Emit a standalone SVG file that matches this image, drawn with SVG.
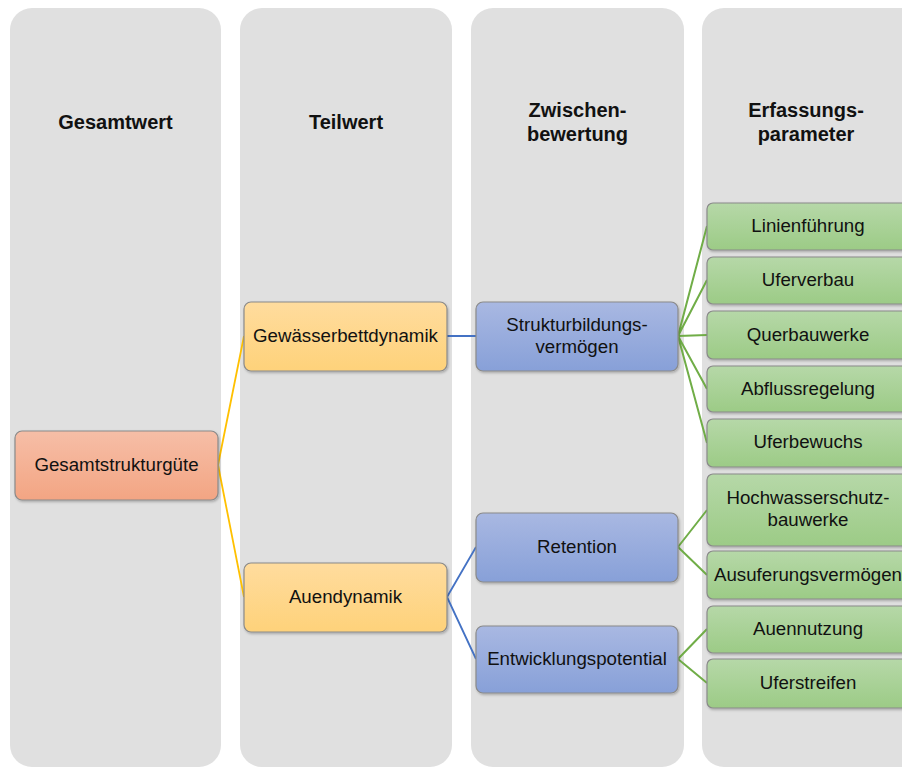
<svg xmlns="http://www.w3.org/2000/svg" width="902" height="767" viewBox="0 0 902 767">
<style>
.col{fill:#e0e0e0}
.hd{font-family:"Liberation Sans",Arial,sans-serif;font-weight:bold;font-size:20px;fill:#111;text-anchor:middle}
.tx{font-family:"Liberation Sans",Arial,sans-serif;font-size:18.7px;fill:#111;text-anchor:middle}
.box{stroke:#8a8a8a;stroke-width:1.2;filter:url(#sh)}
.red{fill:url(#gR)}
.yel{fill:url(#gY)}
.blu{fill:url(#gB)}
.grn{fill:url(#gG)}
.cy{stroke:#ffc000;stroke-width:1.8;fill:none}
.cb{stroke:#4472c4;stroke-width:1.8;fill:none}
.cg{stroke:#70ad47;stroke-width:2;fill:none}
</style>
<defs>
<linearGradient id="gR" x1="0" y1="0" x2="0" y2="1"><stop offset="0" stop-color="#f6bea7"/><stop offset="1" stop-color="#f3a583"/></linearGradient>
<linearGradient id="gY" x1="0" y1="0" x2="0" y2="1"><stop offset="0" stop-color="#ffdc9e"/><stop offset="1" stop-color="#fed27a"/></linearGradient>
<linearGradient id="gB" x1="0" y1="0" x2="0" y2="1"><stop offset="0" stop-color="#a9b8e2"/><stop offset="1" stop-color="#87a0d8"/></linearGradient>
<linearGradient id="gG" x1="0" y1="0" x2="0" y2="1"><stop offset="0" stop-color="#b6d8a8"/><stop offset="1" stop-color="#9ccb86"/></linearGradient>
<filter id="sh" x="-10%" y="-10%" width="120%" height="130%"><feDropShadow dx="1" dy="1.5" stdDeviation="1" flood-color="#000" flood-opacity="0.25"/></filter>
</defs>
<g id="columns">
<rect class="col" x="10" y="8" width="211" height="759" rx="22"/>
<rect class="col" x="240" y="8" width="212" height="759" rx="22"/>
<rect class="col" x="471" y="8" width="213" height="759" rx="22"/>
<rect class="col" x="702" y="8" width="230" height="759" rx="22"/>
<text class="hd" x="115.5" y="129">Gesamtwert</text>
<text class="hd" x="346" y="129">Teilwert</text>
<text class="hd" x="577.5" y="117">Zwischen-</text>
<text class="hd" x="577.5" y="141">bewertung</text>
<text class="hd" x="806" y="117">Erfassungs-</text>
<text class="hd" x="806" y="141">parameter</text>
</g>
<g id="connectors">
<path class="cy" d="M218 465 L244 336 M218 465 L244 597"/>
<path class="cb" d="M447 336 L476 336 M447 597 L476 547 M447 597 L476 659"/>
<path class="cg" d="M678 336 L707 226 M678 336 L707 280 M678 336 L707 335 M678 336 L707 389 M678 336 L707 443"/>
<path class="cg" d="M678 547 L707 510 M678 547 L707 575 M678 659 L707 629 M678 659 L707 683"/>
</g>
<g id="n-gesamtstrukturguete"><rect class="box red" x="15" y="431" width="203" height="69" rx="7"/><text class="tx" x="116.5" y="471">Gesamtstrukturgüte</text></g>
<g id="n-gewaesserbettdynamik"><rect class="box yel" x="244" y="302" width="203" height="69" rx="7"/><text class="tx" x="345.5" y="342">Gewässerbettdynamik</text></g>
<g id="n-auendynamik"><rect class="box yel" x="244" y="563" width="203" height="69" rx="7"/><text class="tx" x="345.5" y="603">Auendynamik</text></g>
<g id="n-strukturbildung"><rect class="box blu" x="476" y="302" width="202" height="69" rx="7"/><text class="tx" x="577" y="331">Strukturbildungs-</text><text class="tx" x="577" y="353">vermögen</text></g>
<g id="n-retention"><rect class="box blu" x="476" y="513" width="202" height="69" rx="7"/><text class="tx" x="577" y="553">Retention</text></g>
<g id="n-entwicklungspotential"><rect class="box blu" x="476" y="626" width="202" height="67" rx="7"/><text class="tx" x="577" y="665">Entwicklungspotential</text></g>
<g id="n-linienfuehrung"><rect class="box grn" x="707" y="203" width="202" height="47" rx="6"/><text class="tx" x="808" y="232">Linienführung</text></g>
<g id="n-uferverbau"><rect class="box grn" x="707" y="257" width="202" height="47" rx="6"/><text class="tx" x="808" y="286">Uferverbau</text></g>
<g id="n-querbauwerke"><rect class="box grn" x="707" y="311" width="202" height="48" rx="6"/><text class="tx" x="808" y="341">Querbauwerke</text></g>
<g id="n-abflussregelung"><rect class="box grn" x="707" y="366" width="202" height="46" rx="6"/><text class="tx" x="808" y="395">Abflussregelung</text></g>
<g id="n-uferbewuchs"><rect class="box grn" x="707" y="419" width="202" height="48" rx="6"/><text class="tx" x="808" y="448">Uferbewuchs</text></g>
<g id="n-hochwasserschutz"><rect class="box grn" x="707" y="474" width="202" height="72" rx="6"/><text class="tx" x="808" y="504">Hochwasserschutz-</text><text class="tx" x="808" y="526">bauwerke</text></g>
<g id="n-ausuferungsvermoegen"><rect class="box grn" x="707" y="551" width="202" height="48" rx="6"/><text class="tx" x="808" y="581">Ausuferungsvermögen</text></g>
<g id="n-auennutzung"><rect class="box grn" x="707" y="606" width="202" height="47" rx="6"/><text class="tx" x="808" y="635">Auennutzung</text></g>
<g id="n-uferstreifen"><rect class="box grn" x="707" y="659" width="202" height="49" rx="6"/><text class="tx" x="808" y="689">Uferstreifen</text></g>
</svg>
